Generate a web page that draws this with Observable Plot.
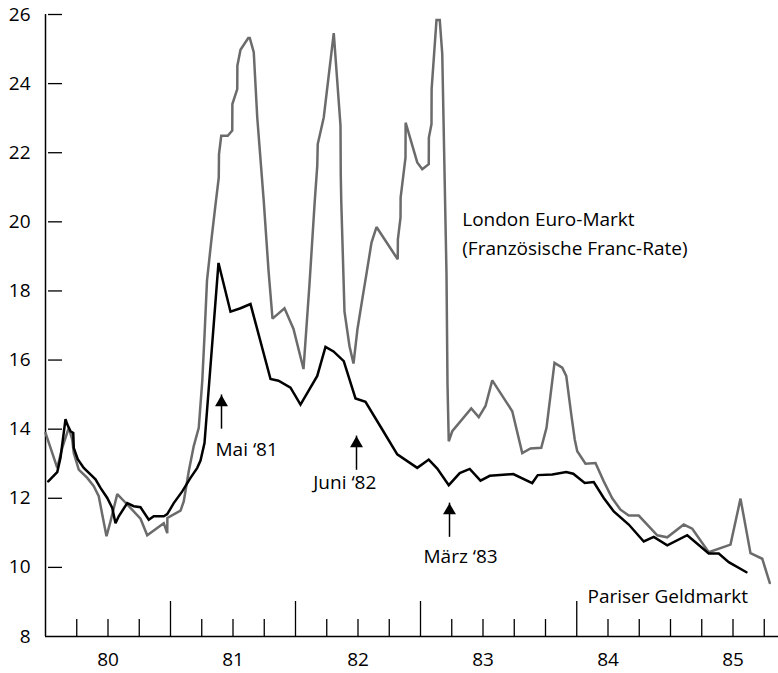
<!DOCTYPE html>
<html><head><meta charset="utf-8">
<script src="https://cdn.jsdelivr.net/npm/d3@7"></script>
<script src="https://cdn.jsdelivr.net/npm/@observablehq/plot@0.6"></script>
<style>body{margin:0;background:#fff}#chart{width:778px;height:673px}</style>
</head><body><div id="chart"></div>
<script>
// London Euro-Markt (Französische Franc-Rate): time (decimal year), rate %
const londonT = [1980.000,1980.094,1980.134,1980.186,1980.214,1980.226,1980.266,1980.334,1980.386,1980.426,1980.454,1980.488,1980.520,1980.574,1980.654,1980.760,1980.814,1980.946,1980.974,1980.975,1981.080,1981.106,1981.146,1981.186,1981.226,1981.254,1981.272,1981.292,1981.328,1981.360,1981.386,1981.388,1981.406,1981.458,1981.494,1981.495,1981.534,1981.535,1981.560,1981.622,1981.634,1981.666,1981.694,1981.746,1981.784,1981.816,1981.912,1981.984,1982.064,1982.112,1982.154,1982.174,1982.178,1982.226,1982.306,1982.360,1982.362,1982.366,1982.392,1982.432,1982.464,1982.496,1982.536,1982.568,1982.608,1982.648,1982.800,1982.818,1982.819,1982.840,1982.841,1982.880,1982.881,1982.974,1983.014,1983.066,1983.067,1983.088,1983.089,1983.128,1983.154,1983.174,1983.208,1983.216,1983.226,1983.254,1983.406,1983.466,1983.520,1983.574,1983.734,1983.814,1983.880,1983.966,1984.008,1984.072,1984.134,1984.166,1984.206,1984.234,1984.254,1984.320,1984.400,1984.466,1984.534,1984.600,1984.666,1984.746,1984.894,1984.974,1985.106,1985.174,1985.306,1985.480,1985.560,1985.640,1985.734,1985.794];
const londonV = [13.89,12.88,13.46,14.04,13.70,13.31,12.83,12.59,12.35,12.06,11.53,10.90,11.33,12.12,11.82,11.41,10.93,11.28,10.99,11.43,11.64,11.91,12.78,13.51,14.04,15.39,16.70,18.30,19.50,20.50,21.28,21.96,22.49,22.49,22.64,23.41,23.84,24.52,24.98,25.32,25.32,24.91,23.02,20.60,18.60,17.20,17.50,16.90,15.74,18.20,20.60,21.62,22.25,23.02,25.46,22.78,21.38,20.60,17.40,16.40,15.90,16.90,17.80,18.50,19.40,19.85,19.01,18.92,19.49,20.12,20.70,21.86,22.87,21.72,21.52,21.67,22.44,22.83,23.84,25.84,25.84,24.86,18.48,15.30,13.65,13.94,14.60,14.35,14.67,15.41,14.52,13.31,13.44,13.46,14.04,15.92,15.78,15.54,14.43,13.70,13.36,13.00,13.02,12.49,12.00,11.67,11.50,11.50,10.93,10.87,11.24,11.12,10.44,10.66,11.99,10.41,10.25,9.55];

// Pariser Geldmarkt
const parisT = [1980.022,1980.094,1980.120,1980.160,1980.174,1980.200,1980.222,1980.226,1980.258,1980.306,1980.374,1980.400,1980.440,1980.494,1980.534,1980.560,1980.586,1980.654,1980.706,1980.760,1980.826,1980.866,1980.946,1980.974,1981.026,1981.094,1981.160,1981.214,1981.240,1981.272,1981.294,1981.384,1981.480,1981.560,1981.640,1981.800,1981.864,1981.960,1982.040,1982.174,1982.240,1982.304,1982.386,1982.480,1982.560,1982.694,1982.814,1982.974,1983.066,1983.134,1983.226,1983.314,1983.394,1983.480,1983.554,1983.742,1983.894,1983.938,1984.054,1984.166,1984.222,1984.314,1984.386,1984.466,1984.546,1984.666,1984.786,1984.866,1984.974,1985.134,1985.306,1985.386,1985.466,1985.608];
const parisV = [12.49,12.76,13.17,14.29,14.14,13.94,13.89,13.46,13.13,12.88,12.64,12.55,12.30,12.01,11.72,11.28,11.48,11.86,11.77,11.74,11.38,11.48,11.48,11.54,11.86,12.20,12.59,12.88,13.09,13.60,14.62,18.81,17.40,17.50,17.62,15.45,15.40,15.20,14.71,15.54,16.38,16.25,15.97,14.89,14.79,13.99,13.27,12.88,13.12,12.86,12.38,12.73,12.85,12.51,12.65,12.70,12.44,12.67,12.69,12.76,12.71,12.44,12.47,12.01,11.62,11.24,10.75,10.88,10.64,10.93,10.40,10.40,10.15,9.86];

// axes
const yTicks = [8,10,12,14,16,18,20,22,24,26];
const quarterTicks = [1980.25,1980.5,1980.75,1981.25,1981.5,1981.75,1982.25,1982.5,1982.75,1983.25,1983.5,1983.75,1984.0,1984.5,1984.75,1985.0,1985.25,1985.5,1985.75];
const longTicks = [1981,1982,1983,1984.25];
const yearPos = [1980.5,1981.5,1982.5,1983.5,1984.5,1985.5];
const yearLabels = ["80","81","82","83","84","85"];

// annotations
const noteLabels = ["Mai ‘81","Juni ‘82","März ‘83","Pariser Geldmarkt","London Euro-Markt","(Französische Franc-Rate)"];
const noteT = [1981.36,1982.142,1983.024,1984.336,1983.334,1983.334];
const noteV = [13.39,12.44,10.29,9.16,20.06,19.22];
const arrowT = [1981.408,1982.488,1983.232];
const arrowTip = [14.99,13.80,11.86];
const arrowTail = [14.0,12.81,10.87];

const london = londonT.map((t,i)=>({t, v: londonV[i]}));
const paris = parisT.map((t,i)=>({t, v: parisV[i]}));
const notes = noteLabels.map((label,i)=>({label, t: noteT[i], v: noteV[i]}));
const arrows = arrowT.map((t,i)=>({t, tip: arrowTip[i], tail: arrowTail[i]}));

const W = 778, H = 673, mL = 45, mT = 14, mB = 37;
const frameH = H - mT - mB;
const FS = 19;

const chart = Plot.plot({
  width: W, height: H,
  marginLeft: mL, marginRight: 0, marginTop: mT, marginBottom: mB,
  x: {domain: [1980, 1980 + (W - mL) / 125]},
  y: {domain: [8, 26]},
  style: {fontFamily: "'Open Sans', sans-serif", fontSize: FS + "px", fontWeight: 500, color: "#000", background: "#fff"},
  marks: [
    Plot.axisY({ticks: yTicks, label: null, tickSize: 0, tickPadding: 15, fontSize: FS, fontWeight: 500, fill: "#000", tickFormat: d => String(d)}),
    Plot.axisX({ticks: yearPos, label: null, tickSize: 0, tickPadding: 16, fontSize: FS, fontWeight: 500, fill: "#000", tickFormat: d => yearLabels[yearPos.indexOf(d)]}),
    Plot.tickY(yTicks.filter(d => d > 8), {y: d => d, insetLeft: 3, insetRight: W - mL - 17, stroke: "#000", strokeWidth: 1.3}),
    Plot.tickX(quarterTicks, {x: d => d, insetTop: frameH - 17, stroke: "#000", strokeWidth: 1.3}),
    Plot.tickX(longTicks, {x: d => d, insetTop: frameH - 35, stroke: "#000", strokeWidth: 1.3}),
    Plot.ruleX([1980], {stroke: "#000", strokeWidth: 1.5}),
    Plot.ruleY([8], {stroke: "#000", strokeWidth: 1.5}),
    Plot.line(london, {x: "t", y: "v", stroke: "#6b6b6b", strokeWidth: 2.5, strokeLinejoin: "miter", strokeMiterlimit: 2}),
    Plot.line(paris, {x: "t", y: "v", stroke: "#000", strokeWidth: 2.5, strokeLinejoin: "miter", strokeMiterlimit: 2}),
    Plot.ruleX(arrows, {x: "t", y1: "tail", y2: "tip", stroke: "#000", strokeWidth: 1.5}),
    Plot.dot(arrows, {x: "t", y: "tip", symbol: "triangle", r: 4.8, fill: "#000", stroke: "none", dy: 7.5}),
    Plot.text(notes, {x: "t", y: "v", text: "label", textAnchor: "start", fontSize: FS, fontWeight: 500, fill: "#000"})
  ]
});
document.getElementById("chart").append(chart);
</script>
</body></html>
